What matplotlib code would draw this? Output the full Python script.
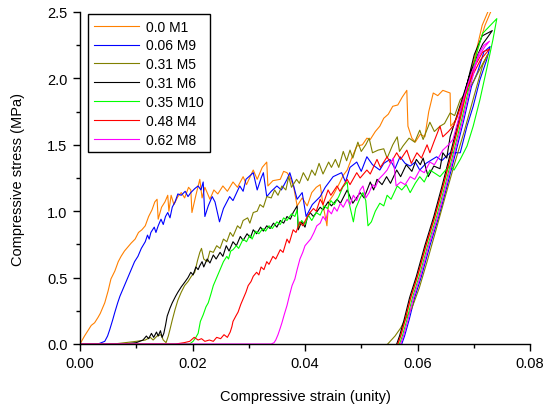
import matplotlib
matplotlib.use("Agg")
import matplotlib.pyplot as plt
from matplotlib.ticker import MultipleLocator

plt.rcParams['font.family'] = ['Liberation Sans', 'DejaVu Sans']

# (strain, stress), loading then unloading
m1 = [(0.0000, 0.00), (0.0008, 0.06), (0.0014, 0.10), (0.0020, 0.14), (0.0026, 0.16), (0.0032, 0.20),
      (0.0036, 0.23), (0.0040, 0.27), (0.0044, 0.31), (0.0050, 0.40), (0.0055, 0.49), (0.0062, 0.55),
      (0.0068, 0.62), (0.0073, 0.66), (0.0079, 0.70), (0.0085, 0.73), (0.0091, 0.76), (0.0098, 0.79),
      (0.0104, 0.84), (0.0110, 0.86), (0.0116, 0.89), (0.0122, 0.96), (0.0128, 1.01), (0.0133, 1.07),
      (0.0137, 1.09), (0.0139, 0.94), (0.0145, 1.03), (0.0151, 1.07), (0.0156, 1.12), (0.0158, 1.00),
      (0.0162, 1.12), (0.0167, 1.05), (0.0174, 1.11), (0.0180, 1.14), (0.0186, 1.10), (0.0193, 1.18),
      (0.0197, 1.16), (0.0199, 0.99), (0.0206, 1.12), (0.0213, 1.24), (0.0217, 1.10), (0.0222, 1.18),
      (0.0231, 1.09), (0.0238, 1.16), (0.0245, 1.13), (0.0254, 1.19), (0.0262, 1.15), (0.0272, 1.22),
      (0.0280, 1.18), (0.0290, 1.26), (0.0296, 1.20), (0.0308, 1.31), (0.0315, 1.24), (0.0324, 1.33),
      (0.0332, 1.37), (0.0334, 1.19), (0.0343, 1.23), (0.0356, 1.24), (0.0362, 1.30), (0.0368, 1.29),
      (0.0373, 1.26), (0.0380, 1.18), (0.0386, 1.04), (0.0395, 1.10), (0.0404, 1.04), (0.0412, 1.14),
      (0.0420, 1.18), (0.0427, 1.20), (0.0432, 1.05), (0.0439, 0.89), (0.0442, 1.07), (0.0450, 1.12),
      (0.0460, 1.20), (0.0468, 1.27), (0.0475, 1.31), (0.0483, 1.40), (0.0492, 1.49), (0.0502, 1.50),
      (0.0510, 1.55), (0.0516, 1.54), (0.0525, 1.60), (0.0533, 1.64), (0.0540, 1.70), (0.0548, 1.73),
      (0.0556, 1.79), (0.0565, 1.80), (0.0573, 1.86), (0.0581, 1.91), (0.0583, 1.64), (0.0590, 1.55),
      (0.0596, 1.52), (0.0605, 1.58), (0.0613, 1.56), (0.0620, 1.75), (0.0628, 1.89), (0.0636, 1.87),
      (0.0645, 1.91), (0.0658, 1.89), (0.0659, 1.64), (0.0665, 1.67), (0.0670, 1.70), (0.0680, 1.84),
      (0.0690, 1.98), (0.0700, 2.12), (0.0710, 2.26), (0.0720, 2.40), (0.0730, 2.50), (0.0737, 2.56),
      (0.0727, 2.52), (0.0715, 2.40), (0.0703, 2.18), (0.0689, 1.94), (0.0675, 1.68), (0.0659, 1.41),
      (0.0645, 1.18), (0.0631, 0.96), (0.0615, 0.74), (0.0600, 0.51), (0.0588, 0.35), (0.0578, 0.18),
      (0.0570, 0.06), (0.0565, 0.00)]

m9 = [(0.0000, 0.00), (0.0032, 0.00), (0.0038, 0.01), (0.0044, 0.02), (0.0049, 0.06), (0.0053, 0.11),
      (0.0058, 0.18), (0.0062, 0.24), (0.0067, 0.31), (0.0071, 0.36), (0.0077, 0.42), (0.0082, 0.47),
      (0.0087, 0.52), (0.0091, 0.56), (0.0097, 0.62), (0.0103, 0.66), (0.0109, 0.72), (0.0116, 0.77),
      (0.0120, 0.82), (0.0123, 0.79), (0.0126, 0.84), (0.0132, 0.88), (0.0135, 0.84), (0.0139, 0.89),
      (0.0144, 0.94), (0.0148, 0.90), (0.0152, 0.96), (0.0156, 0.99), (0.0160, 0.95), (0.0164, 1.03),
      (0.0169, 1.07), (0.0174, 1.13), (0.0180, 1.12), (0.0187, 1.15), (0.0192, 1.11), (0.0197, 1.14),
      (0.0204, 1.17), (0.0210, 1.19), (0.0215, 1.16), (0.0219, 1.22), (0.0222, 0.96), (0.0228, 1.04),
      (0.0235, 1.11), (0.0240, 1.07), (0.0248, 0.92), (0.0255, 1.02), (0.0266, 1.11), (0.0272, 1.08),
      (0.0284, 1.19), (0.0290, 1.15), (0.0295, 1.24), (0.0308, 1.29), (0.0315, 1.16), (0.0322, 1.25),
      (0.0326, 1.29), (0.0332, 1.11), (0.0340, 1.15), (0.0350, 1.19), (0.0358, 1.16), (0.0368, 1.24),
      (0.0373, 1.29), (0.0378, 1.22), (0.0386, 1.09), (0.0395, 1.14), (0.0402, 0.96), (0.0413, 1.05),
      (0.0427, 1.11), (0.0436, 1.18), (0.0450, 1.26), (0.0465, 1.29), (0.0472, 1.22), (0.0480, 1.33),
      (0.0492, 1.37), (0.0500, 1.30), (0.0510, 1.41), (0.0520, 1.35), (0.0533, 1.31), (0.0540, 1.36),
      (0.0551, 1.39), (0.0560, 1.32), (0.0569, 1.41), (0.0578, 1.36), (0.0587, 1.34), (0.0596, 1.37),
      (0.0604, 1.31), (0.0615, 1.36), (0.0634, 1.41), (0.0643, 1.38), (0.0658, 1.44), (0.0676, 1.44),
      (0.0688, 1.64), (0.0699, 1.79), (0.0711, 1.99), (0.0723, 2.14), (0.0729, 2.24),
      (0.0718, 2.20), (0.0707, 2.05), (0.0696, 1.94), (0.0682, 1.68), (0.0666, 1.41), (0.0652, 1.18),
      (0.0638, 0.96), (0.0622, 0.74), (0.0607, 0.51), (0.0595, 0.35), (0.0585, 0.18), (0.0577, 0.06),
      (0.0572, 0.00)]

m5 = [(0.0000, 0.00), (0.0060, 0.00), (0.0080, 0.01), (0.0100, 0.02), (0.0116, 0.03), (0.0125, 0.05),
      (0.0130, 0.03), (0.0137, 0.06), (0.0144, 0.07), (0.0148, 0.03), (0.0153, 0.01), (0.0157, 0.06),
      (0.0160, 0.11), (0.0164, 0.18), (0.0169, 0.26), (0.0174, 0.33), (0.0180, 0.39), (0.0186, 0.44),
      (0.0192, 0.47), (0.0198, 0.51), (0.0204, 0.54), (0.0209, 0.63), (0.0213, 0.69), (0.0216, 0.72),
      (0.0220, 0.64), (0.0226, 0.62), (0.0231, 0.70), (0.0237, 0.69), (0.0243, 0.74), (0.0249, 0.72),
      (0.0255, 0.79), (0.0261, 0.77), (0.0267, 0.84), (0.0272, 0.81), (0.0280, 0.89), (0.0285, 0.87),
      (0.0290, 0.93), (0.0298, 0.95), (0.0302, 0.91), (0.0308, 0.99), (0.0315, 1.00), (0.0320, 1.05),
      (0.0326, 1.03), (0.0332, 1.11), (0.0340, 1.10), (0.0346, 1.16), (0.0352, 1.12), (0.0359, 1.19),
      (0.0366, 1.16), (0.0371, 1.26), (0.0376, 1.18), (0.0385, 1.24), (0.0390, 1.21), (0.0397, 1.29),
      (0.0405, 1.23), (0.0412, 1.31), (0.0418, 1.27), (0.0425, 1.36), (0.0432, 1.28), (0.0442, 1.37),
      (0.0447, 1.33), (0.0454, 1.39), (0.0460, 1.33), (0.0468, 1.45), (0.0474, 1.38), (0.0480, 1.46),
      (0.0485, 1.40), (0.0494, 1.52), (0.0500, 1.45), (0.0508, 1.50), (0.0514, 1.55), (0.0520, 1.44),
      (0.0530, 1.46), (0.0540, 1.47), (0.0546, 1.40), (0.0556, 1.50), (0.0564, 1.56), (0.0568, 1.45),
      (0.0574, 1.49), (0.0585, 1.55), (0.0595, 1.52), (0.0604, 1.61), (0.0610, 1.54), (0.0622, 1.67),
      (0.0630, 1.60), (0.0640, 1.64), (0.0648, 1.66), (0.0658, 1.74), (0.0666, 1.72), (0.0676, 1.84),
      (0.0688, 1.90), (0.0700, 1.98), (0.0712, 2.08), (0.0725, 2.18),
      (0.0716, 2.10), (0.0700, 1.86), (0.0683, 1.60), (0.0666, 1.36), (0.0650, 1.12), (0.0633, 0.86),
      (0.0617, 0.62), (0.0603, 0.42), (0.0590, 0.27), (0.0580, 0.20), (0.0570, 0.12), (0.0560, 0.06),
      (0.0547, 0.00)]

m6 = [(0.0000, 0.00), (0.0080, 0.00), (0.0100, 0.01), (0.0112, 0.03), (0.0118, 0.06), (0.0122, 0.04),
      (0.0127, 0.08), (0.0131, 0.05), (0.0136, 0.09), (0.0139, 0.06), (0.0143, 0.10), (0.0146, 0.05),
      (0.0149, 0.08), (0.0152, 0.14), (0.0155, 0.21), (0.0160, 0.27), (0.0164, 0.31), (0.0170, 0.36),
      (0.0174, 0.39), (0.0180, 0.43), (0.0187, 0.47), (0.0192, 0.50), (0.0197, 0.54), (0.0201, 0.52),
      (0.0206, 0.58), (0.0210, 0.56), (0.0213, 0.59), (0.0217, 0.62), (0.0220, 0.58), (0.0226, 0.64),
      (0.0231, 0.61), (0.0237, 0.67), (0.0242, 0.64), (0.0249, 0.69), (0.0254, 0.66), (0.0260, 0.74),
      (0.0265, 0.70), (0.0272, 0.77), (0.0278, 0.74), (0.0285, 0.81), (0.0290, 0.78), (0.0297, 0.83),
      (0.0303, 0.80), (0.0308, 0.86), (0.0314, 0.83), (0.0321, 0.88), (0.0326, 0.85), (0.0332, 0.89),
      (0.0338, 0.87), (0.0344, 0.91), (0.0350, 0.88), (0.0356, 0.93), (0.0362, 0.91), (0.0368, 0.96),
      (0.0374, 0.94), (0.0379, 0.99), (0.0386, 1.04), (0.0388, 0.86), (0.0394, 0.92), (0.0400, 0.88),
      (0.0404, 0.95), (0.0409, 0.99), (0.0415, 0.96), (0.0427, 1.03), (0.0432, 1.01), (0.0441, 1.07),
      (0.0447, 1.04), (0.0457, 1.09), (0.0463, 1.06), (0.0475, 1.16), (0.0485, 1.06), (0.0498, 1.14),
      (0.0505, 1.10), (0.0516, 1.22), (0.0522, 1.16), (0.0528, 1.24), (0.0537, 1.20), (0.0545, 1.26),
      (0.0552, 1.21), (0.0563, 1.31), (0.0570, 1.26), (0.0580, 1.35), (0.0590, 1.30), (0.0598, 1.39),
      (0.0605, 1.35), (0.0610, 1.40), (0.0619, 1.26), (0.0629, 1.34), (0.0640, 1.32), (0.0645, 1.44),
      (0.0652, 1.40), (0.0658, 1.56), (0.0670, 1.72), (0.0682, 1.88), (0.0694, 2.04), (0.0705, 2.16),
      (0.0716, 2.26), (0.0723, 2.30), (0.0733, 2.36),
      (0.0715, 2.32), (0.0701, 2.18), (0.0687, 1.94), (0.0673, 1.68), (0.0657, 1.41), (0.0643, 1.18),
      (0.0629, 0.96), (0.0613, 0.74), (0.0598, 0.51), (0.0586, 0.35), (0.0576, 0.18), (0.0568, 0.06),
      (0.0563, 0.00)]

m10 = [(0.0000, 0.00), (0.0195, 0.00), (0.0201, 0.02), (0.0206, 0.05), (0.0210, 0.08), (0.0214, 0.17),
       (0.0219, 0.22), (0.0224, 0.28), (0.0228, 0.31), (0.0233, 0.38), (0.0237, 0.44), (0.0243, 0.50),
       (0.0249, 0.56), (0.0255, 0.62), (0.0261, 0.66), (0.0264, 0.64), (0.0268, 0.70), (0.0272, 0.71),
       (0.0278, 0.74), (0.0282, 0.72), (0.0290, 0.79), (0.0296, 0.77), (0.0302, 0.82), (0.0306, 0.79),
       (0.0312, 0.85), (0.0318, 0.83), (0.0325, 0.87), (0.0330, 0.85), (0.0336, 0.89), (0.0342, 0.87),
       (0.0350, 0.92), (0.0356, 0.90), (0.0362, 0.95), (0.0368, 0.93), (0.0376, 0.98), (0.0382, 0.96),
       (0.0386, 1.01), (0.0388, 0.88), (0.0394, 0.93), (0.0400, 0.90), (0.0406, 0.97), (0.0412, 0.93),
       (0.0420, 0.99), (0.0427, 0.97), (0.0434, 1.04), (0.0440, 1.02), (0.0446, 1.08), (0.0452, 1.05),
       (0.0460, 1.11), (0.0467, 1.18), (0.0475, 1.22), (0.0479, 1.05), (0.0486, 0.92), (0.0490, 1.02),
       (0.0498, 1.10), (0.0503, 1.14), (0.0508, 1.08), (0.0512, 0.89), (0.0518, 0.92), (0.0525, 1.00),
       (0.0533, 1.06), (0.0540, 1.04), (0.0546, 1.12), (0.0553, 1.09), (0.0564, 1.19), (0.0572, 1.16),
       (0.0580, 1.20), (0.0587, 1.14), (0.0596, 1.21), (0.0604, 1.26), (0.0612, 1.22), (0.0622, 1.31),
       (0.0633, 1.28), (0.0640, 1.26), (0.0650, 1.31), (0.0658, 1.34), (0.0665, 1.31), (0.0676, 1.39),
       (0.0688, 1.49), (0.0699, 1.64), (0.0711, 1.84), (0.0724, 2.09), (0.0734, 2.29), (0.0741, 2.45),
       (0.0716, 2.34), (0.0707, 2.22), (0.0692, 1.94), (0.0678, 1.68), (0.0662, 1.41), (0.0648, 1.18),
       (0.0634, 0.96), (0.0618, 0.74), (0.0603, 0.51), (0.0591, 0.35), (0.0581, 0.18), (0.0573, 0.06),
       (0.0568, 0.00)]

m4 = [(0.0000, 0.00), (0.0170, 0.00), (0.0185, 0.01), (0.0195, 0.02), (0.0203, 0.05), (0.0210, 0.03),
      (0.0216, 0.04), (0.0222, 0.02), (0.0230, 0.03), (0.0237, 0.02), (0.0243, 0.05), (0.0250, 0.04),
      (0.0256, 0.07), (0.0262, 0.05), (0.0267, 0.09), (0.0270, 0.13), (0.0272, 0.17), (0.0277, 0.21),
      (0.0281, 0.24), (0.0286, 0.30), (0.0290, 0.34), (0.0295, 0.39), (0.0299, 0.44), (0.0304, 0.47),
      (0.0308, 0.51), (0.0314, 0.54), (0.0318, 0.52), (0.0322, 0.58), (0.0327, 0.56), (0.0332, 0.62),
      (0.0336, 0.60), (0.0343, 0.66), (0.0348, 0.64), (0.0356, 0.71), (0.0361, 0.69), (0.0368, 0.79),
      (0.0372, 0.76), (0.0379, 0.86), (0.0384, 0.84), (0.0391, 0.92), (0.0396, 0.89), (0.0403, 0.95),
      (0.0409, 0.99), (0.0415, 1.02), (0.0420, 1.00), (0.0427, 1.09), (0.0432, 1.05), (0.0441, 1.16),
      (0.0446, 1.12), (0.0457, 1.19), (0.0462, 1.15), (0.0475, 1.24), (0.0480, 1.20), (0.0492, 1.29),
      (0.0498, 1.25), (0.0510, 1.31), (0.0516, 1.28), (0.0528, 1.39), (0.0534, 1.33), (0.0546, 1.41),
      (0.0552, 1.36), (0.0563, 1.44), (0.0570, 1.39), (0.0581, 1.46), (0.0589, 1.36), (0.0599, 1.44),
      (0.0607, 1.40), (0.0617, 1.50), (0.0622, 1.44), (0.0629, 1.52), (0.0640, 1.64), (0.0645, 1.56),
      (0.0655, 1.60), (0.0665, 1.65), (0.0676, 1.78), (0.0688, 1.92), (0.0700, 2.04), (0.0712, 2.14),
      (0.0728, 2.22),
      (0.0716, 2.20), (0.0703, 2.10), (0.0689, 1.94), (0.0675, 1.68), (0.0659, 1.41), (0.0645, 1.18),
      (0.0631, 0.96), (0.0615, 0.74), (0.0600, 0.51), (0.0588, 0.35), (0.0578, 0.18), (0.0570, 0.06),
      (0.0565, 0.00)]

m8 = [(0.0000, 0.00), (0.0340, 0.00), (0.0345, 0.01), (0.0348, 0.03), (0.0352, 0.07), (0.0356, 0.12),
      (0.0359, 0.16), (0.0363, 0.22), (0.0368, 0.29), (0.0372, 0.36), (0.0377, 0.44), (0.0382, 0.49),
      (0.0386, 0.56), (0.0391, 0.64), (0.0396, 0.69), (0.0400, 0.74), (0.0406, 0.77), (0.0410, 0.79),
      (0.0416, 0.84), (0.0421, 0.89), (0.0427, 0.91), (0.0432, 0.96), (0.0437, 0.93), (0.0441, 1.01),
      (0.0447, 0.98), (0.0452, 1.03), (0.0457, 1.00), (0.0463, 1.06), (0.0468, 1.03), (0.0475, 1.09),
      (0.0480, 1.05), (0.0486, 1.12), (0.0492, 1.08), (0.0498, 1.16), (0.0503, 1.19), (0.0508, 1.10),
      (0.0514, 1.14), (0.0520, 1.20), (0.0525, 1.18), (0.0531, 1.24), (0.0540, 1.28), (0.0546, 1.31),
      (0.0552, 1.36), (0.0557, 1.40), (0.0562, 1.19), (0.0570, 1.22), (0.0578, 1.20), (0.0587, 1.26),
      (0.0595, 1.24), (0.0604, 1.31), (0.0612, 1.29), (0.0622, 1.37), (0.0630, 1.35), (0.0645, 1.46),
      (0.0655, 1.50), (0.0663, 1.54), (0.0672, 1.68), (0.0684, 1.88), (0.0696, 2.04), (0.0708, 2.16),
      (0.0720, 2.24), (0.0728, 2.28),
      (0.0718, 2.25), (0.0708, 2.18), (0.0694, 1.94), (0.0680, 1.68), (0.0664, 1.41), (0.0650, 1.18),
      (0.0636, 0.96), (0.0620, 0.74), (0.0605, 0.51), (0.0593, 0.35), (0.0583, 0.18), (0.0575, 0.06),
      (0.0570, 0.00)]

curves = [m1, m9, m5, m6, m10, m4, m8]
labels = ['0.0 M1', '0.06 M9', '0.31 M5', '0.31 M6', '0.35 M10', '0.48 M4', '0.62 M8']
colors = ['#FF8000', '#0000FF', '#808000', '#000000', '#00FF00', '#FF0000', '#FF00FF']

fig = plt.figure(figsize=(5.46, 4.06), dpi=100)
ax = fig.add_axes([80 / 546, 1 - 345 / 406, 450 / 546, 332 / 406])

for pts, lab, col in zip(curves, labels, colors):
    xs = [p[0] for p in pts]
    ys = [p[1] for p in pts]
    ax.plot(xs, ys, color=col, lw=0.8, label=lab)

ax.set_xlim(0, 0.08)
ax.set_ylim(0, 2.5)
ax.xaxis.set_major_locator(MultipleLocator(0.02))
ax.xaxis.set_minor_locator(MultipleLocator(0.01))
ax.yaxis.set_major_locator(MultipleLocator(0.5))
ax.yaxis.set_minor_locator(MultipleLocator(0.25))
ax.xaxis.set_major_formatter(plt.FormatStrFormatter('%.2f'))
ax.yaxis.set_major_formatter(plt.FormatStrFormatter('%.1f'))
ax.tick_params(which='major', direction='out', length=5, width=1, labelsize=10.5, pad=4)
ax.tick_params(which='minor', direction='out', length=3, width=1)
ax.spines['top'].set_visible(False)
ax.spines['right'].set_visible(False)
for s in ('left', 'bottom'):
    ax.spines[s].set_linewidth(1)

ax.set_xlabel('Compressive strain (unity)', fontsize=10.5, labelpad=13)
ax.set_ylabel('Compressive stress (MPa)', fontsize=10.5, labelpad=16)

leg = ax.legend(loc='upper left', bbox_to_anchor=(88 / 546, 1 - 15 / 406),
                bbox_transform=fig.transFigure, borderaxespad=0, fancybox=False,
                edgecolor='black', framealpha=1, fontsize=10, handlelength=3.3,
                labelspacing=0.35, borderpad=0.4, handletextpad=0.5)
leg.get_frame().set_linewidth(1)

fig.savefig('out.png', dpi=100)
